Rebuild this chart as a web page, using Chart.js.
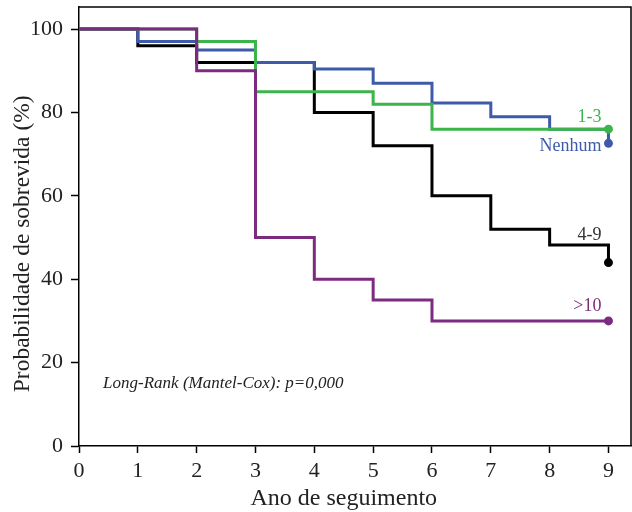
<!DOCTYPE html>
<html>
<head>
<meta charset="utf-8">
<script src="https://cdn.jsdelivr.net/npm/chart.js@4"></script>
<style>
  html, body { margin: 0; padding: 0; background: #fff; }
  #wrap { width: 632px; height: 512px; }
</style>
</head>
<body>
<div id="wrap"><canvas id="myChart" width="632" height="512"></canvas></div>
<script>
// anos e probabilidade de sobrevida (%) por grupo
const tempoNenhum = [0, 1, 2, 3, 4, 5, 6, 7, 8, 9];
const valNenhum = [100, 97, 95, 92, 90.4, 87, 82.3, 79, 76, 72.6];
const tempo13 = [0, 2, 3, 5, 6, 9];
const val13 = [100, 97, 85, 82, 76, 76];
const tempo49 = [0, 1, 2, 4, 5, 6, 7, 8, 9];
const val49 = [100, 96, 92, 80, 72, 60, 52, 48.2, 44];
const tempo10 = [0, 2, 3, 4, 5, 6, 9];
const val10 = [100, 90, 50, 40, 35, 30, 30];

const xTicks = [0, 1, 2, 3, 4, 5, 6, 7, 8, 9];
const yTicks = [0, 20, 40, 60, 80, 100];

const serif = "'Liberation Serif', 'DejaVu Serif', serif";

function pts(t, v) {
    return t.map((x, i) => ({ x: x, y: v[i] }));
}

function lastDot(ctx) {
    return ctx.dataIndex === ctx.dataset.data.length - 1 ? 3 : 0;
}

function serie(label, t, v, cor) {
    return {
        label: label,
        data: pts(t, v),
        borderColor: cor,
        backgroundColor: cor,
        borderWidth: 3,
        stepped: 'before',
        pointRadius: lastDot,
        pointHoverRadius: lastDot,
        fill: false
    };
}

// rotulos no fim de cada curva, titulos dos eixos e texto do teste
const labelsPlugin = {
    id: 'labels',
    afterDatasetsDraw(chart) {
        const c = chart.ctx;
        const x = chart.scales.x, y = chart.scales.y;
        const a = chart.chartArea;
        c.save();
        // borda superior e direita
        c.strokeStyle = '#000';
        c.lineWidth = 1.5;
        c.beginPath();
        c.moveTo(a.left, a.top);
        c.lineTo(a.right - 1, a.top);
        c.lineTo(a.right - 1, a.bottom);
        c.stroke();

        c.font = '18px ' + serif;
        c.textAlign = 'right';
        c.textBaseline = 'alphabetic';
        const xr = x.getPixelForValue(9) - 7;
        c.fillStyle = '#3bb44a';
        c.fillText('1-3', xr, y.getPixelForValue(76) - 7);
        c.fillStyle = '#3d5ba9';
        c.fillText('Nenhum', xr, y.getPixelForValue(76) + 22);
        c.fillStyle = '#333';
        c.fillText('4-9', xr, y.getPixelForValue(48.2) - 5);
        c.fillStyle = '#7d2a81';
        c.fillText('>10', xr, y.getPixelForValue(30) - 10);

        c.fillStyle = '#222';
        c.textAlign = 'left';
        c.font = 'italic 17px ' + serif;
        c.fillText('Long-Rank (Mantel-Cox): p=0,000', x.getPixelForValue(0.41), y.getPixelForValue(14));

        // titulos
        c.fillStyle = '#222';
        c.textAlign = 'center';
        c.font = '24px ' + serif;
        c.fillText('Ano de seguimento', x.getPixelForValue(4.5), 505);
        c.translate(29, y.getPixelForValue(48.5));
        c.rotate(-Math.PI / 2);
        c.font = '23.5px ' + serif;
        c.fillText('Probabilidade de sobrevida (%)', 0, 0);
        c.restore();
    }
};

const ctx = document.getElementById('myChart');

const myChart = new Chart(ctx, {
    type: 'line',
    data: {
        datasets: [
            serie('>10', tempo10, val10, '#7d2a81'),
            serie('1-3', tempo13, val13, '#3bb44a'),
            serie('Nenhum', tempoNenhum, valNenhum, '#3d5ba9'),
            serie('4-9', tempo49, val49, '#000000')
        ]
    },
    options: {
        responsive: false,
        animation: false,
        layout: { autoPadding: false, padding: { top: 7, right: 0, left: 0, bottom: 0 } },
        plugins: {
            legend: { display: false },
            tooltip: { enabled: false }
        },
        scales: {
            x: {
                type: 'linear',
                min: 0,
                max: 9.4,
                afterBuildTicks: s => { s.ticks = xTicks.map(v => ({ value: v })); },
                afterFit: s => { s.height = 66; s.paddingLeft = 0; s.paddingRight = 0; },
                grid: { drawOnChartArea: false, tickLength: 7, tickColor: '#000', tickWidth: 1.5 },
                border: { color: '#000', width: 1.5 },
                ticks: { color: '#222', font: { family: serif, size: 22 }, padding: 5, maxRotation: 0 },
                title: { display: false }
            },
            y: {
                min: 0,
                max: 105.3,
                afterBuildTicks: s => { s.ticks = yTicks.map(v => ({ value: v })); },
                afterFit: s => { s.width = 79; s.paddingTop = 0; s.paddingBottom = 0; },
                grid: { drawOnChartArea: false, tickLength: 8, tickColor: '#000', tickWidth: 1.5 },
                border: { color: '#000', width: 1.5 },
                ticks: { color: '#222', font: { family: serif, size: 22 }, padding: 8 },
                title: { display: false }
            }
        }
    },
    plugins: [labelsPlugin]
});
</script>
</body>
</html>
